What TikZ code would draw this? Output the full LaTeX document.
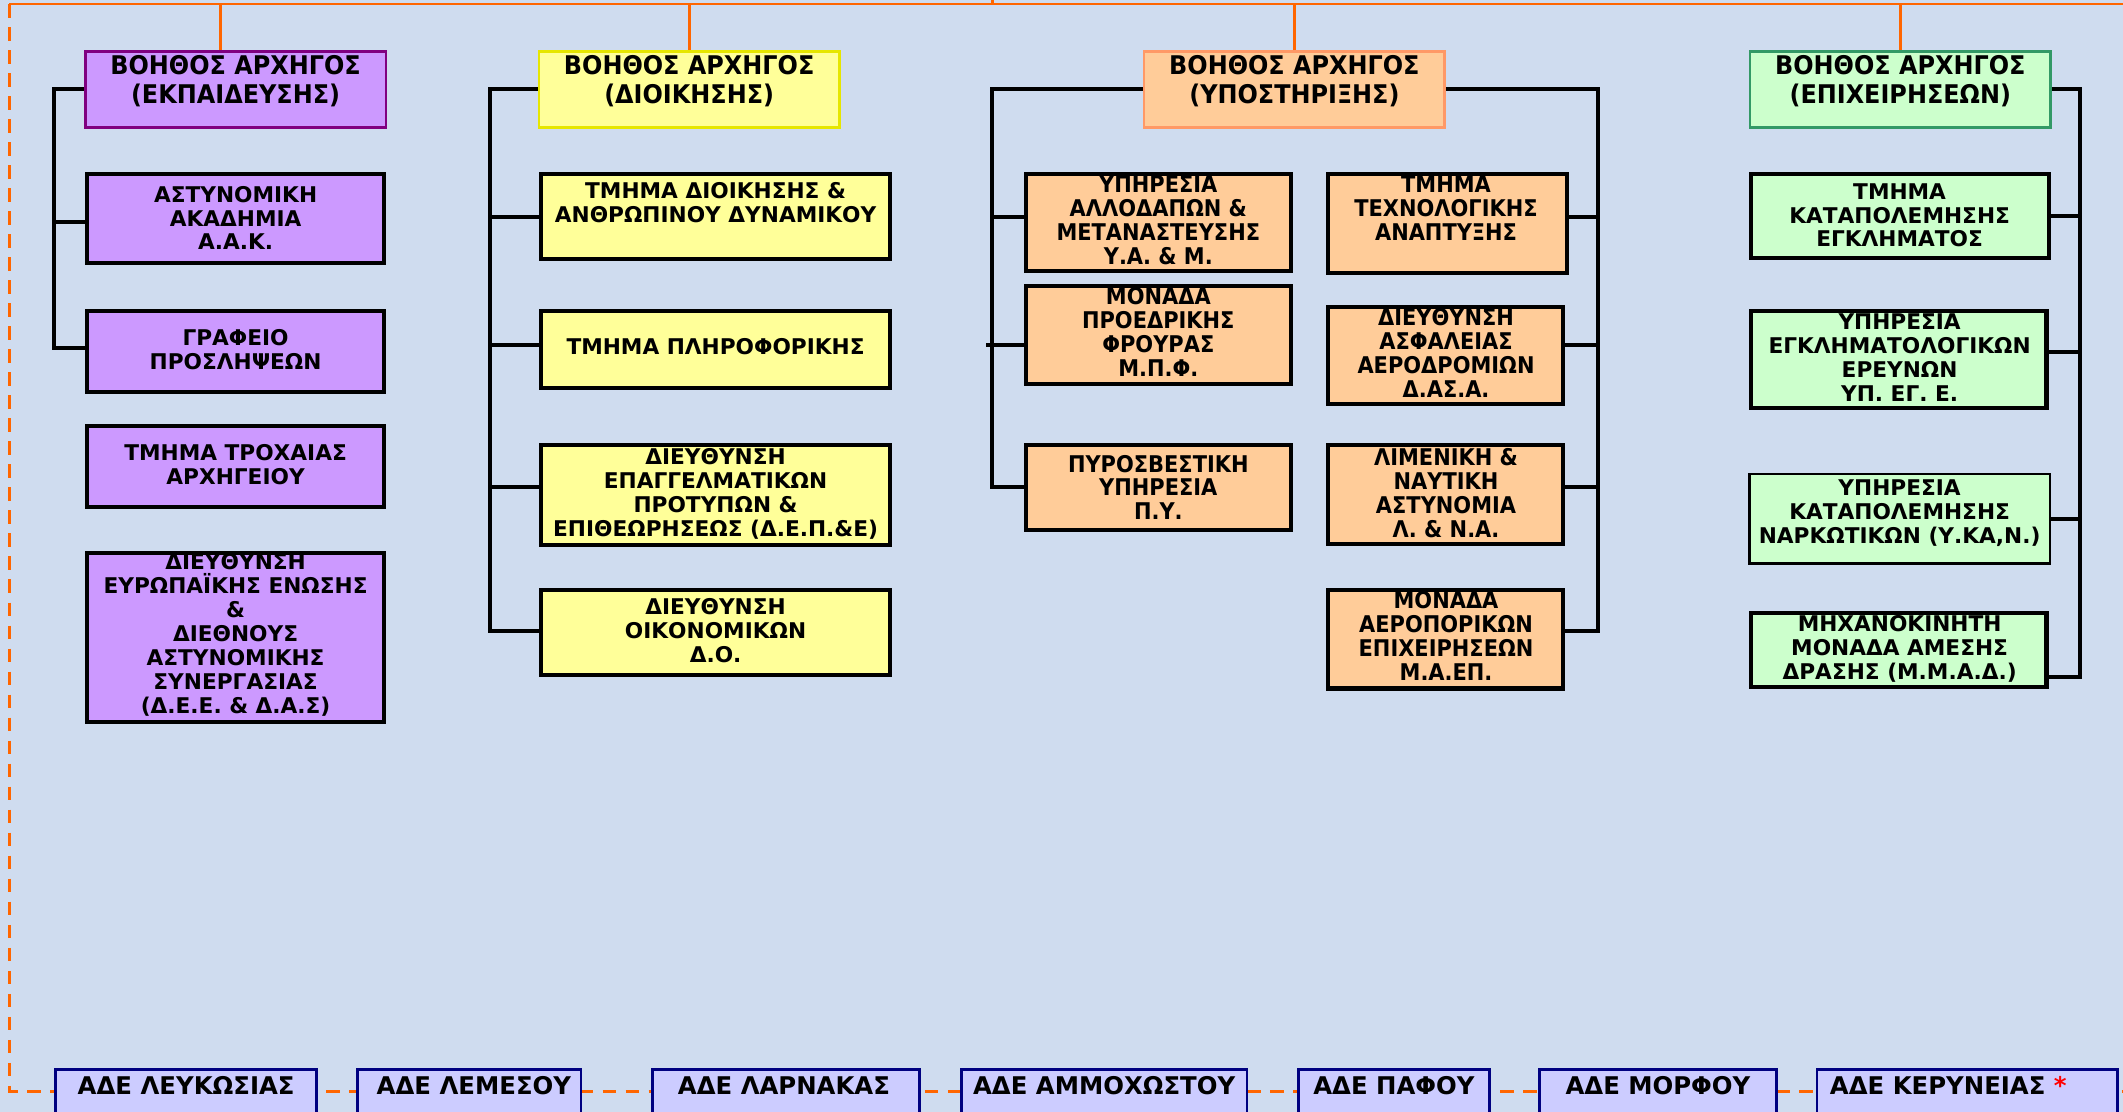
\documentclass[tikz,border=0pt]{standalone}
\usepackage{fontspec}
\newfontfamily\vfont{DejaVu Sans Bold}
\newfontfamily\tfont{DejaVu Sans Bold}[FakeStretch=0.93]
\newfontfamily\cfont{DejaVu Sans Bold}[FakeStretch=0.91]
\usetikzlibrary{calc}
\definecolor{bg}{RGB}{207,220,239}
\definecolor{orng}{RGB}{255,102,0}
\definecolor{purp}{RGB}{204,153,255}
\definecolor{purpD}{RGB}{128,0,128}
\definecolor{yel}{RGB}{255,255,153}
\definecolor{yelD}{RGB}{230,230,0}
\definecolor{ora}{RGB}{255,204,153}
\definecolor{oraD}{RGB}{255,153,102}
\definecolor{grn}{RGB}{204,255,204}
\definecolor{grnD}{RGB}{51,153,102}
\definecolor{adef}{RGB}{204,204,255}
\definecolor{navy}{RGB}{0,0,128}
\begin{document}
\begin{tikzpicture}[x=1pt,y=-1pt,
  headbox/.style={line width=2pt,minimum width=222pt,minimum height=56pt,inner sep=0pt},
  unitbox/.style={draw=black,line width=3pt,inner sep=0pt},
  adebox/.style={draw=navy,fill=adef,line width=2pt,minimum height=50pt,inner sep=0pt},
  vtxt/.style={font=\vfont\fontsize{16}{17.7}\selectfont,align=center,inner sep=0pt},
  atxt/.style={font=\cfont\fontsize{17}{17.7}\selectfont,align=center,inner sep=0pt},
  htxt/.style={font=\tfont\fontsize{19}{21}\selectfont,align=center,inner sep=0pt},
  adetxt/.style={font=\vfont\fontsize{18}{21}\selectfont,inner sep=0pt},
  conn/.style={draw=black,line width=3pt},
  oline/.style={draw=orng,line width=2pt},
  odash/.style={draw=orng,line width=2pt,dash pattern=on 10pt off 7pt}]
\useasboundingbox (0,0) rectangle (1568,821);
\clip (0,0) rectangle (1568,821);
\fill[bg] (0,0) rectangle (1568,821);

% frame coordinates
\coordinate (tl) at (7,3);
\coordinate (tr) at (1570,3);
\coordinate (bl) at (7,806);
\coordinate (br) at (1570,806);
\coordinate (ct) at (733,-2);
\coordinate (v1) at (40,0);
\coordinate (v2) at (362,0);
\coordinate (v3l) at (733,0);
\coordinate (v3r) at (1180,0);
\coordinate (v4) at (1536,0);

\draw[odash] (tl) -- (bl) -- (br);
\draw[oline] (tl) -- (tr);
\draw[oline] (ct) -- (ct |- tl);

% heads
\node[headbox,draw=purpD,fill=purp] (h1) at (174,66) {};
\node[headbox,draw=yelD,fill=yel] (h2) at (509,66) {};
\node[headbox,draw=oraD,fill=ora] (h3) at (956,66) {};
\node[headbox,draw=grnD,fill=grn] (h4) at (1403.5,66) {};
\node[htxt] (th1) at (174,60) {ΒΟΗΘΟΣ ΑΡΧΗΓΟΣ\\(ΕΚΠΑΙΔΕΥΣΗΣ)};
\node[htxt] (th2) at (509,60) {ΒΟΗΘΟΣ ΑΡΧΗΓΟΣ\\(ΔΙΟΙΚΗΣΗΣ)};
\node[htxt] (th3) at (956,60) {ΒΟΗΘΟΣ ΑΡΧΗΓΟΣ\\(ΥΠΟΣΤΗΡΙΞΗΣ)};
\node[htxt] (th4) at (1403.5,60) {ΒΟΗΘΟΣ ΑΡΧΗΓΟΣ\\(ΕΠΙΧΕΙΡΗΣΕΩΝ)};

\coordinate (h1top) at ($(h1.north)+(-11,0)$);
\draw[oline] (h1top) -- (h1top |- tl);
\draw[oline] (h2.north) -- (h2.north |- tl);
\draw[oline] (h3.north) -- (h3.north |- tl);
\draw[oline] (h4.north) -- (h4.north |- tl);

% column 1
\node[unitbox,fill=purp,minimum width=219pt,minimum height=66pt] (b11) at (174,161.5) {};
\node[unitbox,fill=purp,minimum width=219pt,minimum height=60pt] (b12) at (174,259.5) {};
\node[unitbox,fill=purp,minimum width=219pt,minimum height=60pt] (b13) at (174,344.5) {};
\node[unitbox,fill=purp,minimum width=219pt,minimum height=125pt] (b14) at (174,471) {};
\node[vtxt] (t11) at (174,161) {ΑΣΤΥΝΟΜΙΚΗ\\ΑΚΑΔΗΜΙΑ\\Α.Α.Κ.};
\node[vtxt] (t12) at (174,258) {ΓΡΑΦΕΙΟ\\ΠΡΟΣΛΗΨΕΩΝ};
\node[vtxt] (t13) at (174,343) {ΤΜΗΜΑ ΤΡΟΧΑΙΑΣ\\ΑΡΧΗΓΕΙΟΥ};
\node[vtxt] (t14) at (174,469) {ΔΙΕΥΘΥΝΣΗ\\ΕΥΡΩΠΑΪΚΗΣ ΕΝΩΣΗΣ\\\&\\ΔΙΕΘΝΟΥΣ\\ΑΣΤΥΝΟΜΙΚΗΣ\\ΣΥΝΕΡΓΑΣΙΑΣ\\(Δ.Ε.Ε. \& Δ.Α.Σ)};
\draw[conn] (h1.west) -- (h1.west -| v1) |- ($(b12.west)+(0,-2.5)$);
\draw[conn] ($(b11.west)+(0,2.5)$) -- ($(b11.west -| v1)+(0,2.5)$);

% column 2
\node[unitbox,fill=yel,minimum width=258pt,minimum height=63pt] (b21) at (528.5,160) {};
\node[unitbox,fill=yel,minimum width=258pt,minimum height=57pt] (b22) at (528.5,258) {};
\node[unitbox,fill=yel,minimum width=258pt,minimum height=74pt] (b23) at (528.5,365.5) {};
\node[unitbox,fill=yel,minimum width=258pt,minimum height=63pt] (b24) at (528.5,467) {};
\node[vtxt] (t21) at (528.5,149.5) {ΤΜΗΜΑ ΔΙΟΙΚΗΣΗΣ \&\\ΑΝΘΡΩΠΙΝΟΥ ΔΥΝΑΜΙΚΟΥ};
\node[vtxt] (t22) at (528.5,256) {ΤΜΗΜΑ ΠΛΗΡΟΦΟΡΙΚΗΣ};
\node[vtxt] (t23) at (528.5,364.5) {ΔΙΕΥΘΥΝΣΗ\\ΕΠΑΓΓΕΛΜΑΤΙΚΩΝ\\ΠΡΟΤΥΠΩΝ \&\\ΕΠΙΘΕΩΡΗΣΕΩΣ (Δ.Ε.Π.\&Ε)};
\node[vtxt] (t24) at (528.5,466) {ΔΙΕΥΘΥΝΣΗ\\ΟΙΚΟΝΟΜΙΚΩΝ\\Δ.Ο.};
\draw[conn] (h2.west) -- (h2.west -| v2) |- ($(b24.west)+(0,-1)$);
\draw[conn] (b21.west) -- (b21.west -| v2);
\draw[conn] ($(b22.west)+(0,-3)$) -- ($(b22.west -| v2)+(0,-3)$);
\draw[conn] ($(b23.west)+(0,-5.5)$) -- ($(b23.west -| v2)+(0,-5.5)$);

% column 3
\node[unitbox,fill=ora,minimum width=196pt,minimum height=72pt] (b31) at (855.5,164.5) {};
\node[unitbox,fill=ora,minimum width=196pt,minimum height=72pt] (b32) at (855.5,247.5) {};
\node[unitbox,fill=ora,minimum width=196pt,minimum height=63pt] (b33) at (855.5,360) {};
\node[unitbox,fill=ora,minimum width=177pt,minimum height=73pt] (b34) at (1069,165) {};
\node[unitbox,fill=ora,minimum width=174pt,minimum height=72pt] (b35) at (1067.5,262.5) {};
\node[unitbox,fill=ora,minimum width=174pt,minimum height=73pt] (b36) at (1067.5,365) {};
\node[unitbox,fill=ora,minimum width=174pt,minimum height=73pt] (b37) at (1067.5,472) {};
\node[atxt] (t31) at (855.5,162.5) {ΥΠΗΡΕΣΙΑ\\ΑΛΛΟΔΑΠΩΝ \&\\ΜΕΤΑΝΑΣΤΕΥΣΗΣ\\Υ.Α. \& Μ.};
\node[atxt] (t32) at (855.5,245.5) {ΜΟΝΑΔΑ\\ΠΡΟΕΔΡΙΚΗΣ\\ΦΡΟΥΡΑΣ\\Μ.Π.Φ.};
\node[atxt] (t33) at (855.5,360) {ΠΥΡΟΣΒΕΣΤΙΚΗ\\ΥΠΗΡΕΣΙΑ\\Π.Υ.};
\node[atxt] (t34) at (1068,154) {ΤΜΗΜΑ\\ΤΕΧΝΟΛΟΓΙΚΗΣ\\ΑΝΑΠΤΥΞΗΣ};
\node[atxt] (t35) at (1068,261) {ΔΙΕΥΘΥΝΣΗ\\ΑΣΦΑΛΕΙΑΣ\\ΑΕΡΟΔΡΟΜΙΩΝ\\Δ.ΑΣ.Α.};
\node[atxt] (t36) at (1068,364) {ΛΙΜΕΝΙΚΗ \&\\ΝΑΥΤΙΚΗ\\ΑΣΤΥΝΟΜΙΑ\\Λ. \& Ν.Α.};
\node[atxt] (t37) at (1068,469.5) {ΜΟΝΑΔΑ\\ΑΕΡΟΠΟΡΙΚΩΝ\\ΕΠΙΧΕΙΡΗΣΕΩΝ\\Μ.Α.ΕΠ.};
\draw[conn] (h3.west) -- (h3.west -| v3l) |- (b33.west);
\draw[conn] ($(b31.west)+(0,-4.5)$) -- ($(b31.west -| v3l)+(0,-4.5)$);
\draw[conn] ($(b32.west)+(0,7.5)$) -- ($(b32.west -| v3l)+(-5,7.5)$);
\draw[conn] (h3.east) -- (h3.east -| v3r) |- ($(b37.east)+(0,-6)$);
\draw[conn] ($(b34.east)+(0,-5)$) -- ($(b34.east -| v3r)+(0,-5)$);
\draw[conn] ($(b35.east)+(0,-7.5)$) -- ($(b35.east -| v3r)+(0,-7.5)$);
\draw[conn] ($(b36.east)+(0,-5)$) -- ($(b36.east -| v3r)+(0,-5)$);

% column 4
\node[unitbox,fill=grn,minimum width=220pt,minimum height=62pt] (b41) at (1403.5,159.5) {};
\node[unitbox,fill=grn,minimum width=218pt,minimum height=72pt] (b42) at (1402.5,265.5) {};
\node[unitbox,fill=grn,line width=2pt,minimum width=222pt,minimum height=66pt] (b43) at (1403,383) {};
\node[unitbox,fill=grn,minimum width=218pt,minimum height=55pt] (b44) at (1402.5,480) {};
\node[vtxt] (t41) at (1403,159) {ΤΜΗΜΑ\\ΚΑΤΑΠΟΛΕΜΗΣΗΣ\\ΕΓΚΛΗΜΑΤΟΣ};
\node[vtxt] (t42) at (1403,264) {ΥΠΗΡΕΣΙΑ\\ΕΓΚΛΗΜΑΤΟΛΟΓΙΚΩΝ\\ΕΡΕΥΝΩΝ\\ΥΠ. ΕΓ. Ε.};
\node[vtxt] (t43) at (1403,379) {ΥΠΗΡΕΣΙΑ\\ΚΑΤΑΠΟΛΕΜΗΣΗΣ\\ΝΑΡΚΩΤΙΚΩΝ (Υ.ΚΑ,Ν.)};
\node[vtxt] (t44) at (1403,479) {ΜΗΧΑΝΟΚΙΝΗΤΗ\\ΜΟΝΑΔΑ ΑΜΕΣΗΣ\\ΔΡΑΣΗΣ (Μ.Μ.Α.Δ.)};
\draw[conn] (h4.east) -- (h4.east -| v4) |- ($(b44.east)+(0,20)$);
\draw[conn] (b41.east) -- (b41.east -| v4);
\draw[conn] ($(b42.east)+(0,-5.5)$) -- ($(b42.east -| v4)+(0,-5.5)$);
\draw[conn] (b43.east) -- (b43.east -| v4);

% ADE boxes
\node[adebox,minimum width=193pt] (a1) at (137.5,815) {};
\node[adebox,minimum width=165pt] (a2) at (346.5,815) {};
\node[adebox,minimum width=197pt] (a3) at (580.5,815) {};
\node[adebox,minimum width=211pt] (a4) at (815.5,815) {};
\node[adebox,minimum width=141pt] (a5) at (1029.5,815) {};
\node[adebox,minimum width=175pt] (a6) at (1224.5,815) {};
\node[adebox,minimum width=222pt] (a7) at (1453,815) {};
\node[adetxt] (ta1) at (137.5,802) {ΑΔΕ ΛΕΥΚΩΣΙΑΣ};
\node[adetxt] (ta2) at (350,802) {ΑΔΕ ΛΕΜΕΣΟΥ};
\node[adetxt] (ta3) at (579,802) {ΑΔΕ ΛΑΡΝΑΚΑΣ};
\node[adetxt] (ta4) at (815.5,802) {ΑΔΕ ΑΜΜΟΧΩΣΤΟΥ};
\node[adetxt] (ta5) at (1029.5,802) {ΑΔΕ ΠΑΦΟΥ};
\node[adetxt] (ta6) at (1224.5,802) {ΑΔΕ ΜΟΡΦΟΥ};
\node[adetxt] (ta7) at (1439,802) {ΑΔΕ ΚΕΡΥΝΕΙΑΣ {\color{red}*}};
\end{tikzpicture}
\end{document}
